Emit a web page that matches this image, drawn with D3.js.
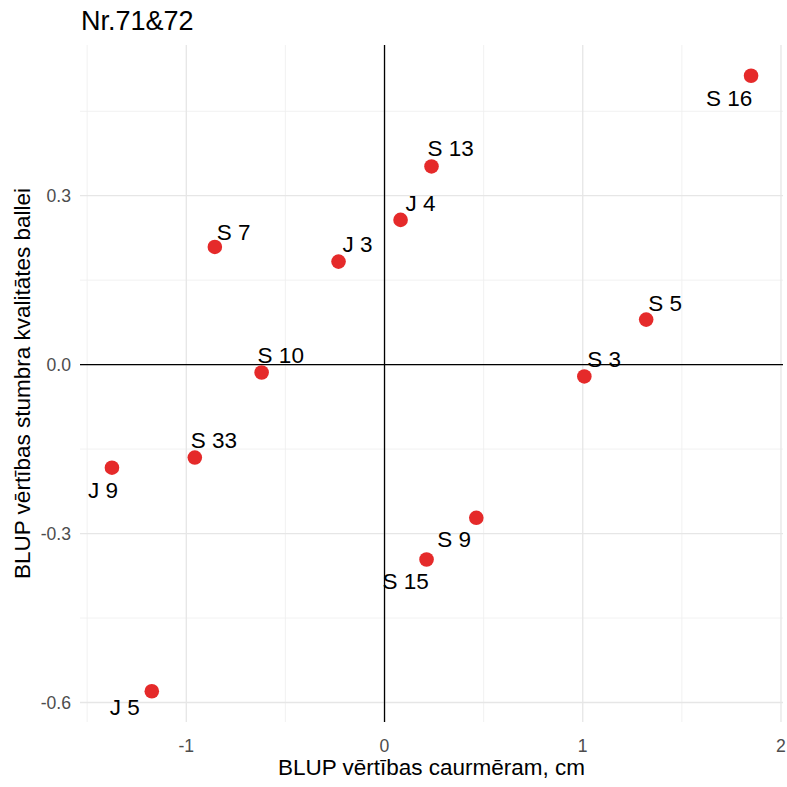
<!DOCTYPE html>
<html lang="lv">
<head>
<meta charset="UTF-8">
<title>Nr.71&amp;72</title>
<script src="https://cdnjs.cloudflare.com/ajax/libs/d3/7.8.5/d3.min.js"></script>
<style>
    body { margin: 0; background: #fff; }
    svg { display: block; font-family: "Liberation Sans", Arial, sans-serif; }
    .grid-major { stroke: #e6e6e6; stroke-width: 1.3; }
    .grid-minor { stroke: #efefef; stroke-width: 0.9; }
    .tick-label { fill: #4d4d4d; font-size: 17.6px; }
</style>
</head>
<body>
<div id="chart"></div>
<script>
    // clone names and BLUP values
    const clones = ['S 16', 'S 13', 'J 4', 'J 3', 'S 7', 'S 5', 'S 3', 'S 10', 'S 33', 'J 9', 'S 9', 'S 15', 'J 5'];
    const blupDiameter = [1.849, 0.237, 0.081, -0.232, -0.856, 1.320, 1.008, -0.620, -0.957, -1.375, 0.463, 0.212, -1.174];
    const blupQuality = [0.513, 0.352, 0.257, 0.183, 0.209, 0.080, -0.021, -0.014, -0.165, -0.183, -0.272, -0.346, -0.580];

    const xMajor = [-1, 0, 1, 2];
    const xMinor = [-1.5, -0.5, 0.5, 1.5];
    const yMajor = [-0.6, -0.3, 0, 0.3];
    const yMinor = [-0.45, -0.15, 0.15, 0.45];
    const xTickLabels = ['-1', '0', '1', '2'];
    const yTickLabels = ['-0.6', '-0.3', '0.0', '0.3'];

    const width = 787, height = 787;
    const margin = {top: 45, right: 4, bottom: 65, left: 80};
    const innerW = width - margin.left - margin.right;
    const innerH = height - margin.top - margin.bottom;

    const data = clones.map((c, i) => ({label: c, x: blupDiameter[i], y: blupQuality[i]}));

    // ggplot style 5% expansion
    function expand(ext) {
        const pad = (ext[1] - ext[0]) * 0.05;
        return [ext[0] - pad, ext[1] + pad];
    }

    const x = d3.scaleLinear().domain(expand(d3.extent(blupDiameter))).range([0, innerW]);
    const y = d3.scaleLinear().domain(expand(d3.extent(blupQuality))).range([innerH, 0]);

    const svg = d3.select('#chart').append('svg')
        .attr('width', width)
        .attr('height', height);

    const g = svg.append('g').attr('transform', `translate(${margin.left},${margin.top})`);

    // grid
    g.append('g').selectAll('line').data(xMinor).join('line')
        .attr('class', 'grid-minor')
        .attr('x1', d => x(d)).attr('x2', d => x(d))
        .attr('y1', 0).attr('y2', innerH);
    g.append('g').selectAll('line').data(yMinor).join('line')
        .attr('class', 'grid-minor')
        .attr('y1', d => y(d)).attr('y2', d => y(d))
        .attr('x1', 0).attr('x2', innerW);
    g.append('g').selectAll('line').data(xMajor).join('line')
        .attr('class', 'grid-major')
        .attr('x1', d => x(d)).attr('x2', d => x(d))
        .attr('y1', 0).attr('y2', innerH);
    g.append('g').selectAll('line').data(yMajor).join('line')
        .attr('class', 'grid-major')
        .attr('y1', d => y(d)).attr('y2', d => y(d))
        .attr('x1', 0).attr('x2', innerW);

    // zero lines
    g.append('line')
        .attr('x1', 0).attr('x2', innerW)
        .attr('y1', y(0)).attr('y2', y(0))
        .attr('stroke', '#000').attr('stroke-width', 1.3);
    g.append('line')
        .attr('x1', x(0)).attr('x2', x(0))
        .attr('y1', 0).attr('y2', innerH)
        .attr('stroke', '#000').attr('stroke-width', 1.3);

    // tick labels
    g.append('g').selectAll('text').data(xMajor).join('text')
        .attr('class', 'tick-label')
        .attr('x', d => x(d))
        .attr('y', innerH + 30)
        .attr('text-anchor', 'middle')
        .text((d, i) => xTickLabels[i]);
    g.append('g').selectAll('text').data(yMajor).join('text')
        .attr('class', 'tick-label')
        .attr('x', -9)
        .attr('y', d => y(d))
        .attr('dy', '0.35em')
        .attr('text-anchor', 'end')
        .text((d, i) => yTickLabels[i]);

    // points
    g.append('g').selectAll('circle').data(data).join('circle')
        .attr('cx', d => x(d.x))
        .attr('cy', d => y(d.y))
        .attr('r', 7.3)
        .attr('fill', '#e52a2a');

    // repelled label offsets (left edge / baseline relative to the point)
    const labelOffset = {
        'S 16': [-45, 30], 'S 13': [-4, -10], 'J 4': [5, -9], 'J 3': [4, -10],
        'S 7': [2, -7], 'S 5': [2, -9], 'S 3': [3, -9], 'S 10': [-4, -10],
        'S 33': [-4, -10], 'J 9': [-24, 30], 'S 9': [-39, 29], 'S 15': [-44, 30],
        'J 5': [-42, 24]
    };

    g.append('g').selectAll('text').data(data).join('text')
        .attr('x', d => x(d.x) + labelOffset[d.label][0])
        .attr('y', d => y(d.y) + labelOffset[d.label][1])
        .attr('font-size', '22.5px')
        .attr('fill', '#000')
        .text(d => d.label);

    // titles
    svg.append('text')
        .attr('x', 81)
        .attr('y', 30)
        .attr('font-size', '27px')
        .attr('fill', '#000')
        .text('Nr.71&72');

    svg.append('text')
        .attr('x', margin.left + innerW / 2)
        .attr('y', 775)
        .attr('text-anchor', 'middle')
        .attr('font-size', '22.5px')
        .attr('fill', '#000')
        .text('BLUP vērtības caurmēram, cm');

    svg.append('text')
        .attr('transform', `translate(29.5,${margin.top + innerH / 2}) rotate(-90)`)
        .attr('text-anchor', 'middle')
        .attr('font-size', '22.5px')
        .attr('fill', '#000')
        .text('BLUP vērtības stumbra kvalitātes ballei');
</script>
</body>
</html>
